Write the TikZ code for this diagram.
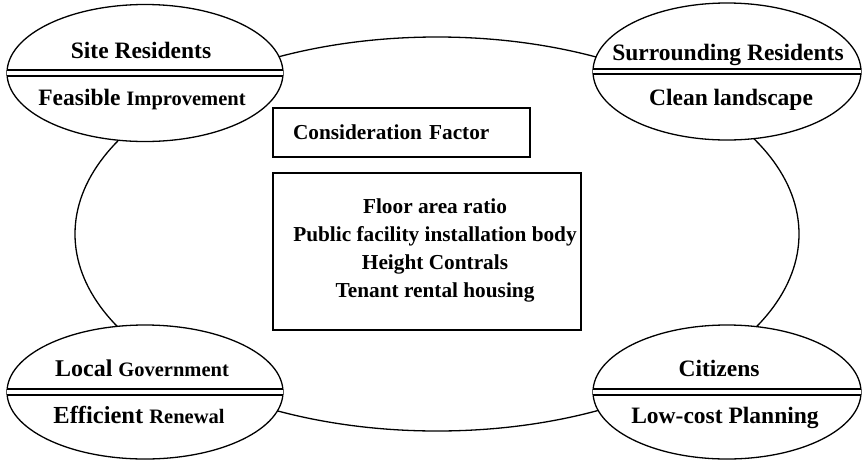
\documentclass[tikz,border=0pt]{standalone}
\usepackage{fontspec}
\setmainfont{Liberation Serif}
\usetikzlibrary{shapes.geometric}
\tikzset{
  ring/.style={draw, ellipse, line width=1.3pt, inner sep=0pt, outer sep=0pt},
  actor/.style={draw, ellipse, fill=white, line width=1.3pt, inner sep=0pt, outer sep=0pt},
  divider/.style={double=white, draw=black, line width=1.7pt, double distance=3.8pt},
  lbl/.style={anchor=base, inner sep=0pt, font=\bfseries\fontsize{23.5}{27}\selectfont},
  box/.style={draw, line width=1.4pt, inner sep=0pt, outer sep=0pt},
  factor/.style={align=center, inner sep=0pt, font=\bfseries\fontsize{21.3}{28}\selectfont}
}
\newcommand{\smallw}[1]{{\fontsize{20.5}{24}\selectfont #1}}
\begin{document}
\begin{tikzpicture}[x=1pt,y=-1pt]
\useasboundingbox (0,0) rectangle (862,461);
% connecting ring
\node[ring, minimum width=724pt, minimum height=394pt] (ring) at (437,234) {};
% actors
\node[actor, minimum width=276pt, minimum height=137pt] (site) at (145,73) {};
\node[actor, minimum width=268pt, minimum height=137pt] (surr) at (727,71.5) {};
\node[actor, minimum width=276pt, minimum height=134pt] (gov) at (145,392) {};
\node[actor, minimum width=268pt, minimum height=134pt] (cit) at (727,392) {};
\foreach \n in {site,surr,gov,cit}{\draw[divider] (\n.west) -- (\n.east);}
% labels
\node[lbl] (siteA) at (141,58) {Site Residents};
\node[lbl] (siteB) at (142,105) {Feasible \smallw{Improvement}};
\node[lbl] (surrA) at (728,60) {Surrounding Residents};
\node[lbl] (surrB) at (731,105) {Clean landscape};
\node[lbl] (govA) at (142,376) {\fontsize{24}{27}\selectfont Local \smallw{Government}};
\node[lbl] (govB) at (139,423) {\fontsize{24.5}{27}\selectfont Efficient \smallw{Renewal}};
\node[lbl] (citA) at (719,376) {Citizens};
\node[lbl] (citB) at (725,423) {Low-cost Planning};
% consideration factor
\node[box, minimum width=257pt, minimum height=49pt, text width=217pt, inner xsep=20pt, align=left,
      font=\bfseries\fontsize{21.3}{25}\selectfont] (cf) at (401.5,132.5) {Consideration Factor};
\node[box, minimum width=308pt, minimum height=157pt] (fbox) at (427,251.5) {};
\node[factor] (factors) at (435,250) {Floor area ratio\\Public facility installation body\\Height Contrals\\Tenant rental housing};
\end{tikzpicture}
\end{document}
